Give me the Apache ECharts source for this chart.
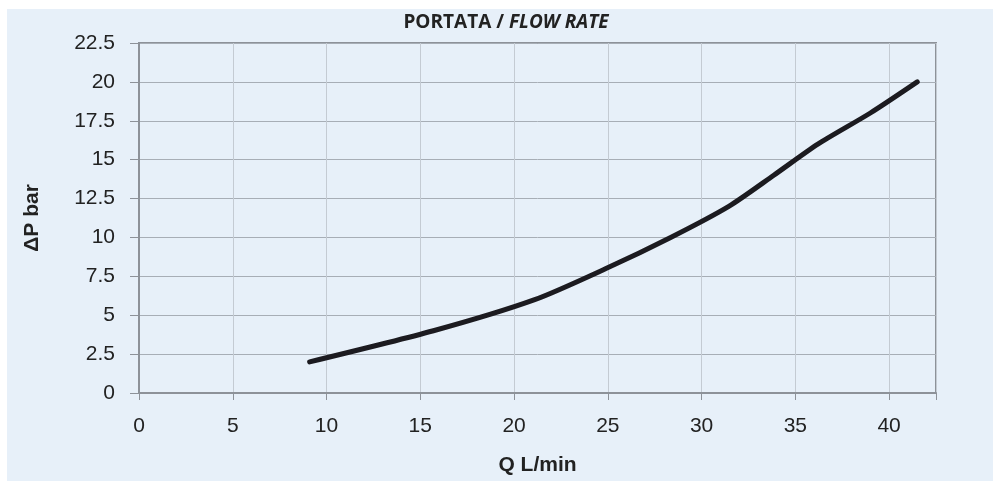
<!DOCTYPE html>
<html>
<head>
<meta charset="utf-8">
<script src="https://cdn.jsdelivr.net/npm/echarts@6/dist/echarts.min.js"></script>
<style>
html,body{margin:0;padding:0;background:#ffffff;}
#chart{width:993px;height:481px;}
</style>
</head>
<body>
<div id="chart"></div>
<script>
// Data
var flowRate = [9.1, 15.7, 21.1, 24.9, 28.35, 31.45, 33.85, 36.2, 39.0, 41.5]; // Q L/min
var pressureDrop = [2, 4, 6, 8, 10, 12, 14, 16, 18, 20];                       // ΔP bar
var titleMain = 'PORTATA / ';
var titleItalic = 'FLOW RATE';
var xAxisName = 'Q L/min';
var yAxisName = 'ΔP bar';

var points = flowRate.map(function (q, i) { return [q, pressureDrop[i]]; });

var chart = echarts.init(document.getElementById('chart'), null, {renderer: 'canvas'});
var labelFont = '"Liberation Sans", Arial, sans-serif';
chart.setOption({
  backgroundColor: '#ffffff',
  animation: false,
  graphic: [
    {type: 'rect', z: -10, silent: true,
     shape: {x: 7, y: 9, width: 986, height: 472},
     style: {fill: '#e7f0f9'}},
    {type: 'text', z: 10, x: 506, y: 23,
     style: {
       text: '{a|' + titleMain + '}{b|' + titleItalic + '}',
       align: 'center', verticalAlign: 'middle',
       rich: {
         a: {fontFamily: '"Open Sans", sans-serif', fontWeight: 'bold', fontSize: 19, fill: '#222222'},
         b: {fontFamily: '"Open Sans", sans-serif', fontWeight: 'bold', fontStyle: 'italic', fontSize: 19, fill: '#222222'}
       }
     }}
  ],
  grid: {left: 139, right: 57, top: 43, bottom: 82, show: true,
         borderColor: '#8d9299', borderWidth: 2, backgroundColor: 'transparent'},
  xAxis: {
    type: 'value', min: 0, max: 42.5, interval: 5,
    name: xAxisName, nameLocation: 'middle', nameGap: 62,
    nameTextStyle: {fontFamily: labelFont, fontWeight: 'bold', fontSize: 21, color: '#222222'},
    axisLine: {show: true, lineStyle: {color: '#8d9299', width: 2}},
    axisTick: {show: true, inside: false, length: 7, lineStyle: {color: '#8d9299', width: 1}},
    axisLabel: {fontFamily: labelFont, fontSize: 21, color: '#222222', margin: 23,
                formatter: function (v) { return v % 5 === 0 ? String(v) : ''; }},
    splitLine: {show: true, lineStyle: {color: '#c4cbd3', width: 1}}
  },
  yAxis: {
    type: 'value', min: 0, max: 22.5, interval: 2.5,
    name: yAxisName, nameLocation: 'middle', nameGap: 96, nameRotate: 90,
    nameTextStyle: {fontFamily: labelFont, fontWeight: 'bold', fontSize: 21, color: '#222222'},
    axisLine: {show: true, lineStyle: {color: '#8d9299', width: 2}},
    axisTick: {show: true, inside: false, length: 9, lineStyle: {color: '#8d9299', width: 1}},
    axisLabel: {fontFamily: labelFont, fontSize: 21, color: '#222222', margin: 24},
    splitLine: {show: true, lineStyle: {color: '#a7aeb6', width: 1}}
  },
  series: [{
    type: 'line',
    data: points,
    smooth: 0.25,
    showSymbol: false,
    symbol: 'none',
    lineStyle: {color: '#1c1b20', width: 5, cap: 'round', join: 'round'}
  }]
});
</script>
</body>
</html>
